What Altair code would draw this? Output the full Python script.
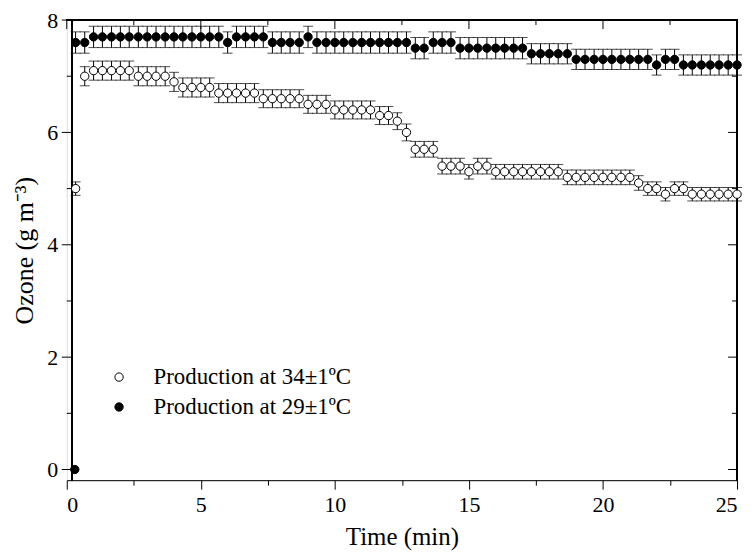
import altair as alt
import pandas as pd

# ---- data ----
time_min = [
    0.33, 0.67, 1.00, 1.33, 1.67, 2.00, 2.33, 2.67, 3.00, 3.33, 3.67, 4.00,
    4.33, 4.67, 5.00, 5.33, 5.67, 6.00, 6.33, 6.67, 7.00,
    7.33, 7.67, 8.00, 8.33, 8.67, 9.00, 9.33, 9.67,
    10.00, 10.33, 10.67, 11.00, 11.33, 11.67, 12.00, 12.33, 12.67,
    13.00, 13.33, 13.67, 14.00, 14.33, 14.67, 15.00, 15.33, 15.67,
    16.00, 16.33, 16.67, 17.00, 17.33, 17.67, 18.00, 18.33,
    18.67, 19.00, 19.33, 19.67, 20.00, 20.33, 20.67, 21.00,
    21.33, 21.67, 22.00, 22.33, 22.67, 23.00,
    23.33, 23.67, 24.00, 24.33, 24.67, 25.00]

ozone_34 = [
    5.0, 7.0, 7.1, 7.1, 7.1, 7.1, 7.1, 7.0, 7.0, 7.0, 7.0, 6.9,
    6.8, 6.8, 6.8, 6.8, 6.7, 6.7, 6.7, 6.7, 6.7,
    6.6, 6.6, 6.6, 6.6, 6.6, 6.5, 6.5, 6.5,
    6.4, 6.4, 6.4, 6.4, 6.4, 6.3, 6.3, 6.2, 6.0,
    5.7, 5.7, 5.7, 5.4, 5.4, 5.4, 5.3, 5.4, 5.4,
    5.3, 5.3, 5.3, 5.3, 5.3, 5.3, 5.3, 5.3,
    5.2, 5.2, 5.2, 5.2, 5.2, 5.2, 5.2, 5.2,
    5.1, 5.0, 5.0, 4.9, 5.0, 5.0,
    4.9, 4.9, 4.9, 4.9, 4.9, 4.9]

err_34 = [
    0.12, 0.17, 0.17, 0.17, 0.17, 0.17, 0.17, 0.17, 0.17, 0.17, 0.17, 0.17,
    0.17, 0.17, 0.17, 0.17, 0.17, 0.17, 0.17, 0.17, 0.17,
    0.16, 0.16, 0.16, 0.16, 0.16, 0.16, 0.16, 0.16,
    0.16, 0.16, 0.16, 0.16, 0.16, 0.16, 0.16, 0.15, 0.15,
    0.14, 0.14, 0.14, 0.14, 0.14, 0.14, 0.13, 0.14, 0.14,
    0.13, 0.13, 0.13, 0.13, 0.13, 0.13, 0.13, 0.13,
    0.13, 0.13, 0.13, 0.13, 0.13, 0.13, 0.13, 0.13,
    0.13, 0.12, 0.12, 0.12, 0.12, 0.12,
    0.12, 0.12, 0.12, 0.12, 0.12, 0.12]

ozone_29 = [
    7.6, 7.6, 7.7, 7.7, 7.7, 7.7, 7.7, 7.7, 7.7, 7.7, 7.7, 7.7,
    7.7, 7.7, 7.7, 7.7, 7.7, 7.6, 7.7, 7.7, 7.7,
    7.7, 7.6, 7.6, 7.6, 7.6, 7.7, 7.6, 7.6,
    7.6, 7.6, 7.6, 7.6, 7.6, 7.6, 7.6, 7.6, 7.6,
    7.5, 7.5, 7.6, 7.6, 7.6, 7.5, 7.5, 7.5, 7.5,
    7.5, 7.5, 7.5, 7.5, 7.4, 7.4, 7.4, 7.4,
    7.4, 7.3, 7.3, 7.3, 7.3, 7.3, 7.3, 7.3,
    7.3, 7.3, 7.2, 7.3, 7.3, 7.2,
    7.2, 7.2, 7.2, 7.2, 7.2, 7.2]

err_29 = [
    0.19, 0.19, 0.19, 0.19, 0.19, 0.19, 0.19, 0.19, 0.19, 0.19, 0.19, 0.19,
    0.19, 0.19, 0.19, 0.19, 0.19, 0.19, 0.19, 0.19, 0.19,
    0.19, 0.19, 0.19, 0.19, 0.19, 0.19, 0.19, 0.19,
    0.19, 0.19, 0.19, 0.19, 0.19, 0.19, 0.19, 0.19, 0.19,
    0.19, 0.19, 0.19, 0.19, 0.19, 0.19, 0.19, 0.19, 0.19,
    0.19, 0.19, 0.19, 0.19, 0.18, 0.18, 0.18, 0.18,
    0.18, 0.18, 0.18, 0.18, 0.18, 0.18, 0.18, 0.18,
    0.18, 0.18, 0.18, 0.18, 0.18, 0.18,
    0.18, 0.18, 0.18, 0.18, 0.18, 0.18]

# initial reading of the 29 °C run
start_time_29 = [0.30]
start_ozone_29 = [0.0]
start_err_29 = [0.0]

series_names = ["Production at 34±1ºC", "Production at 29±1ºC"]
x_major_ticks = [0, 5, 10, 15, 20, 25]
x_minor_ticks = [2.5, 7.5, 12.5, 17.5, 22.5]
x_ticks = x_major_ticks + x_minor_ticks
y_major_ticks = [0, 2, 4, 6, 8]
y_minor_ticks = [1, 3, 5, 7]

df = pd.concat([
    pd.DataFrame({"time": time_min, "ozone": ozone_34, "err": err_34,
                  "series": series_names[0]}),
    pd.DataFrame({"time": start_time_29 + time_min,
                  "ozone": start_ozone_29 + ozone_29,
                  "err": start_err_29 + err_29,
                  "series": series_names[1]}),
], ignore_index=True)

W, H = 673, 462
FONT = "Liberation Serif"
Y_LINE = 5  # left frame line sits a few px right of x = 0

xscale = alt.Scale(domain=[0, 25], nice=False, zero=False)
yscale = alt.Scale(domain=[-0.19, 8], nice=False, zero=False)

x_tick_size = {"condition": {"test": "datum.value % 5 === 0", "value": 9}, "value": 5}

base = alt.Chart(df).transform_calculate(
    lo="datum.ozone - datum.err", hi="datum.ozone + datum.err"
).transform_filter("datum.err > 0")

stems = base.mark_rule(color="black", strokeWidth=1).encode(
    x=alt.X("time:Q", scale=xscale, axis=None),
    y=alt.Y("lo:Q", scale=yscale, axis=None),
    y2="hi:Q",
)
cap_lo = base.mark_tick(orient="horizontal", size=10, thickness=1, color="black").encode(
    x=alt.X("time:Q", scale=xscale, axis=None),
    y=alt.Y("lo:Q", scale=yscale, axis=None),
)
cap_hi = base.mark_tick(orient="horizontal", size=10, thickness=1, color="black").encode(
    x=alt.X("time:Q", scale=xscale, axis=None),
    y=alt.Y("hi:Q", scale=yscale, axis=None),
)

points = alt.Chart(df).mark_point(shape="circle", size=70, stroke="black",
                                  strokeWidth=1, opacity=1, fillOpacity=1).encode(
    x=alt.X("time:Q", scale=xscale,
            axis=alt.Axis(orient="bottom", values=x_ticks, tickSize=x_tick_size,
                          labelExpr="datum.value % 5 === 0 ? datum.label : ''",
                          labelFont=FONT, labelFontSize=22, labelColor="black",
                          labelPadding=5, title="Time (min)", titleFont=FONT,
                          titleFontSize=25, titleFontWeight="normal",
                          titleColor="black", titlePadding=10,
                          tickColor="black", domainColor="black", grid=False)),
    y=alt.Y("ozone:Q", scale=yscale,
            axis=alt.Axis(orient="left", values=y_major_ticks, ticks=False,
                          domain=False, labelFont=FONT, labelFontSize=22,
                          labelColor="black", labelPadding=9,
                          title="Ozone (g m⁻³)", titleFont=FONT,
                          titleFontSize=26, titleFontWeight="normal",
                          titleColor="black", titlePadding=9, grid=False)),
    fill=alt.Fill("series:N",
                  scale=alt.Scale(domain=series_names, range=["white", "black"]),
                  legend=alt.Legend(orient="none", legendX=41, legendY=347,
                                    title=None, symbolType="circle", symbolSize=70,
                                    symbolStrokeColor="black", symbolStrokeWidth=1,
                                    labelFont=FONT, labelFontSize=23, labelLimit=0,
                                    labelColor="black", labelOffset=23,
                                    rowPadding=6, padding=0)),
)

# frame lines (left, top, right)
left_line = alt.Chart(df).mark_rule(color="black", strokeWidth=1).encode(
    x=alt.value(Y_LINE), y=alt.value(0), y2=alt.value(H))
top_line = alt.Chart(df).mark_rule(color="black", strokeWidth=1).encode(
    x=alt.value(0), x2=alt.value(W), y=alt.value(0))
right_line = alt.Chart(df).mark_rule(color="black", strokeWidth=1).encode(
    x=alt.value(W), y=alt.value(0), y2=alt.value(H))

xmaj = pd.DataFrame({"v": x_major_ticks})
xmin = pd.DataFrame({"v": x_minor_ticks})
ymaj = pd.DataFrame({"v": y_major_ticks})
ymin = pd.DataFrame({"v": y_minor_ticks})

def xtick(data, length):
    return alt.Chart(data).mark_rule(color="black", strokeWidth=1).encode(
        x=alt.X("v:Q", scale=xscale, axis=None), y=alt.value(0), y2=alt.value(length))

def ytick(data, x_from, x_to):
    return alt.Chart(data).mark_rule(color="black", strokeWidth=1).encode(
        y=alt.Y("v:Q", scale=yscale, axis=None), x=alt.value(x_from), x2=alt.value(x_to))

ticks = [
    xtick(xmaj, 9), xtick(xmin, 5),                      # top, pointing down
    ytick(ymaj, W, W - 9), ytick(ymin, W, W - 5),        # right, pointing left
    ytick(ymaj, Y_LINE, Y_LINE - 10), ytick(ymin, Y_LINE, Y_LINE - 5),  # left, outward
]

chart = alt.layer(
    left_line, top_line, right_line, *ticks, stems, cap_lo, cap_hi, points
).resolve_axis(x="independent", y="independent").properties(
    width=W, height=H,
    padding={"left": 59, "top": 11, "right": 10, "bottom": 70},
    autosize=alt.AutoSizeParams(type="none"),
).configure_view(strokeWidth=0).configure(background="white")

chart.save("out.html", embed_options={"renderer": "svg", "actions": False})
